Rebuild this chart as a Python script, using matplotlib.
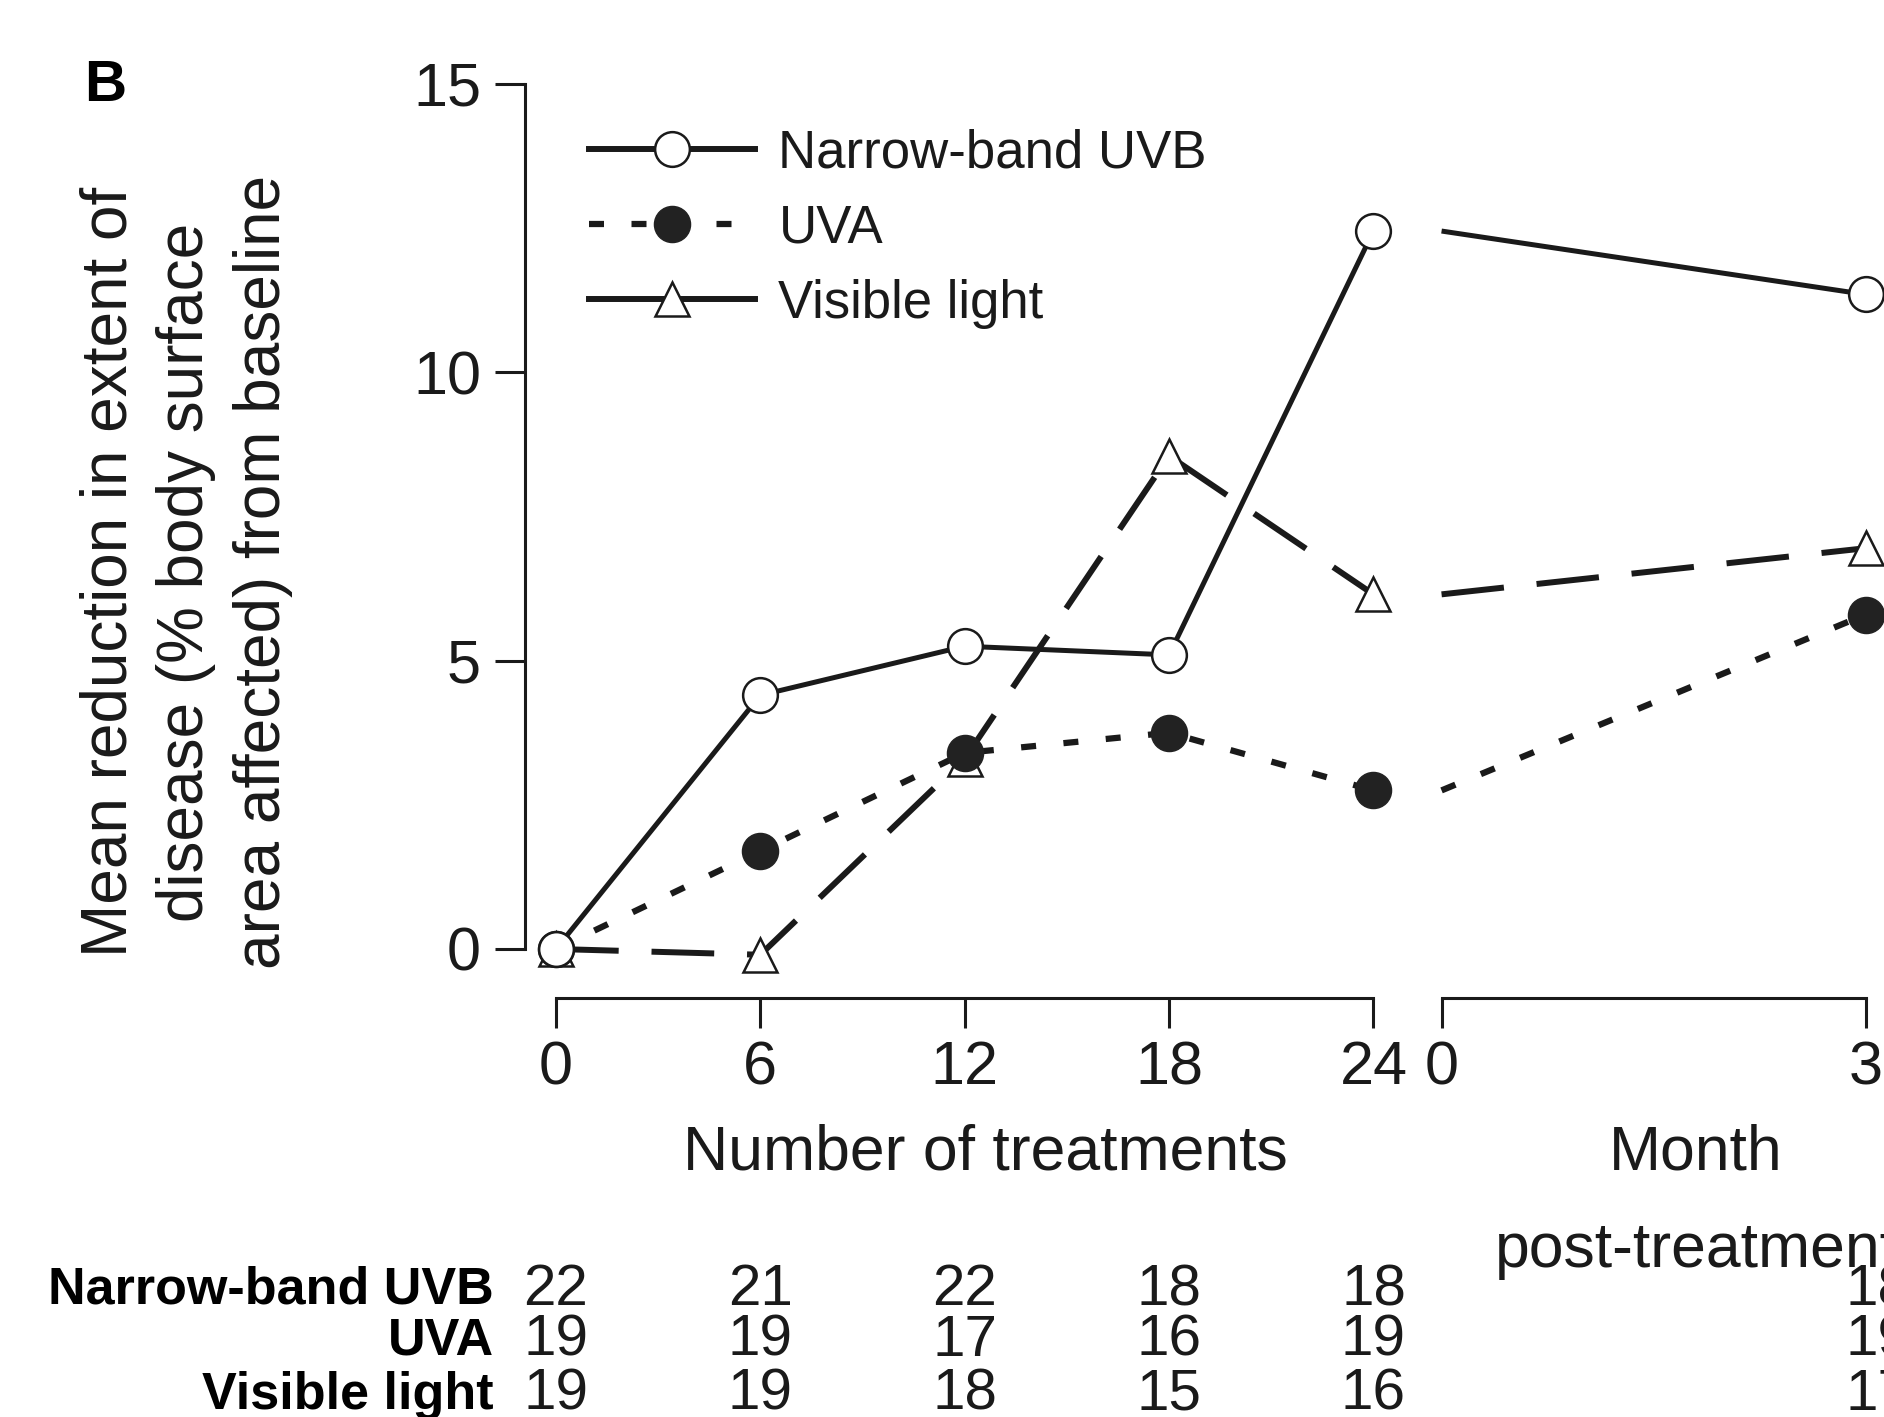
import matplotlib
matplotlib.use("Agg")
import matplotlib.pyplot as plt
import matplotlib.transforms as mtransforms
from matplotlib.lines import Line2D

plt.rcParams["font.family"] = ["Liberation Sans", "DejaVu Sans"]

# data
treatments = [0, 6, 12, 18, 24]
months = [0, 3]

nb_uvb = [0, 4.4, 5.25, 5.1, 12.45]
nb_uvb_post = [12.45, 11.35]
uva = [0, 1.7, 3.4, 3.75, 2.75]
uva_post = [2.75, 5.8]
visible = [0, -0.1, 3.3, 8.55, 6.15]
visible_post = [6.15, 6.95]

n_nb_uvb = [22, 21, 22, 18, 18, 18]
n_uva = [19, 19, 17, 16, 19, 19]
n_visible = [19, 19, 18, 15, 16, 17]

series_names = ["Narrow-band UVB", "UVA", "Visible light"]

# months are drawn on the same x scale after a gap
month_start = 26
month_scale = 4.15


def month_x(m):
    return month_start + m * month_scale


post_x = [month_x(m) for m in months]
ink = "#1a1a1a"

W, H = 1884, 1417
fig = plt.figure(figsize=(W / 100, H / 100), dpi=100)
ax = fig.add_axes([525 / W, (H - 998) / H, (W - 525) / W, (998 - 84) / H])
ax.set_xlim(-0.91, 38.99)
ax.set_ylim(-0.85, 15)

# visible light
ax.plot(treatments, visible, color=ink, lw=4.3, dashes=(10.5, 5.5),
        marker="^", ms=25, mfc="white", mec=ink, mew=1.8, zorder=3, clip_on=False)
ax.plot(post_x, visible_post, color=ink, lw=4.3, dashes=(10.5, 5.5),
        marker="^", ms=25, mfc="white", mec=ink, mew=1.8, markevery=[1],
        zorder=3, clip_on=False)
# UVA
ax.plot(treatments, uva, color=ink, lw=4.5, dashes=(2.4, 4.4),
        marker="o", ms=26, mfc="#222222", mec="#222222", mew=1, zorder=4, clip_on=False)
ax.plot(post_x, uva_post, color=ink, lw=4.5, dashes=(2.4, 4.4),
        marker="o", ms=26, mfc="#222222", mec="#222222", mew=1, markevery=[1],
        zorder=4, clip_on=False)
# narrow-band UVB
ax.plot(treatments, nb_uvb, color=ink, lw=3.6, solid_capstyle="butt",
        marker="o", ms=25, mfc="white", mec=ink, mew=1.8, zorder=5, clip_on=False)
ax.plot(post_x, nb_uvb_post, color=ink, lw=3.6, solid_capstyle="butt",
        marker="o", ms=25, mfc="white", mec=ink, mew=1.8, markevery=[1],
        zorder=5, clip_on=False)

# axes styling
for s in ["top", "right"]:
    ax.spines[s].set_visible(False)
ax.spines["left"].set_bounds(0, 15)
ax.spines["bottom"].set_bounds(0, 24)
for s in ["left", "bottom"]:
    ax.spines[s].set_linewidth(2.2)
    ax.spines[s].set_color(ink)
ax.set_yticks([0, 5, 10, 15])
ax.set_xticks(treatments)
ax.tick_params(axis="y", direction="out", length=21.6, width=2.2, pad=10,
               labelsize=44, colors=ink)
ax.tick_params(axis="x", direction="out", length=21.6, width=2.2, pad=9,
               labelsize=44, colors=ink)

ax2 = ax.twiny()
ax2.set_xlim(ax.get_xlim())
ax2.xaxis.set_ticks_position("bottom")
for s in ["top", "right", "left"]:
    ax2.spines[s].set_visible(False)
ax2.spines["bottom"].set_visible(True)
ax2.spines["bottom"].set_bounds(post_x[0], post_x[-1])
ax2.spines["bottom"].set_linewidth(2.2)
ax2.spines["bottom"].set_color(ink)
ax2.set_xticks(post_x)
ax2.set_xticklabels([str(m) for m in months])
ax2.tick_params(axis="x", direction="out", length=21.6, width=2.2, pad=9,
                labelsize=44, colors=ink)

# axis titles
blend = mtransforms.blended_transform_factory(ax.transData, fig.transFigure)
ax.text(12.6, 1 - 1153 / H, "Number of treatments", transform=blend,
        ha="center", va="center", fontsize=45, color=ink)
ax.text(month_x(1.8), 1 - 1153 / H, "Month", transform=blend,
        ha="center", va="center", fontsize=45, color=ink)
ax.text(month_x(1.8), 1 - 1250 / H, "post-treatment", transform=blend,
        ha="center", va="center", fontsize=45, color=ink)

fig.text(186 / W, 1 - 572 / H,
         "Mean reduction in extent of\ndisease (% body surface\narea affected) from baseline",
         rotation=90, ha="center", va="center", fontsize=46, linespacing=1.36, color=ink)
fig.text(84 / W, 1 - 86 / H, "B", ha="left", va="center", fontsize=42,
         fontweight="bold", color="black")

# legend
handles = [
    Line2D([], [], color=ink, lw=4.3, marker="o", ms=25, mfc="white", mec=ink, mew=1.8),
    Line2D([], [], color=ink, lw=4.5, dashes=(2.4, 4.4), marker="o", ms=26,
           mfc="#222222", mec="#222222"),
    Line2D([], [], color=ink, lw=4.3, marker="^", ms=25, mfc="white", mec=ink, mew=1.8),
]
leg = ax.legend(handles, series_names, loc="upper left",
                bbox_to_anchor=(589 / W, 1 - 128 / H), bbox_transform=fig.transFigure,
                frameon=False, fontsize=38, handlelength=3.14, handletextpad=0.45,
                borderpad=0, borderaxespad=0, labelspacing=0.48, numpoints=1)
for t in leg.get_texts():
    t.set_color(ink)

# numbers at risk
row_y = [1290, 1341, 1395]
cols_x = treatments + [post_x[-1] + 0.35]
for name, counts, ry in zip(series_names, [n_nb_uvb, n_uva, n_visible], row_y):
    fig.text(494 / W, 1 - ry / H, name, ha="right", va="center", fontsize=37.5,
             fontweight="bold", color="black")
    for cx, c in zip(cols_x, counts):
        ax.text(cx, 1 - ry / H, str(c), transform=blend, ha="center", va="center",
                fontsize=42, color=ink, clip_on=False)

fig.savefig("out.png", dpi=100)
